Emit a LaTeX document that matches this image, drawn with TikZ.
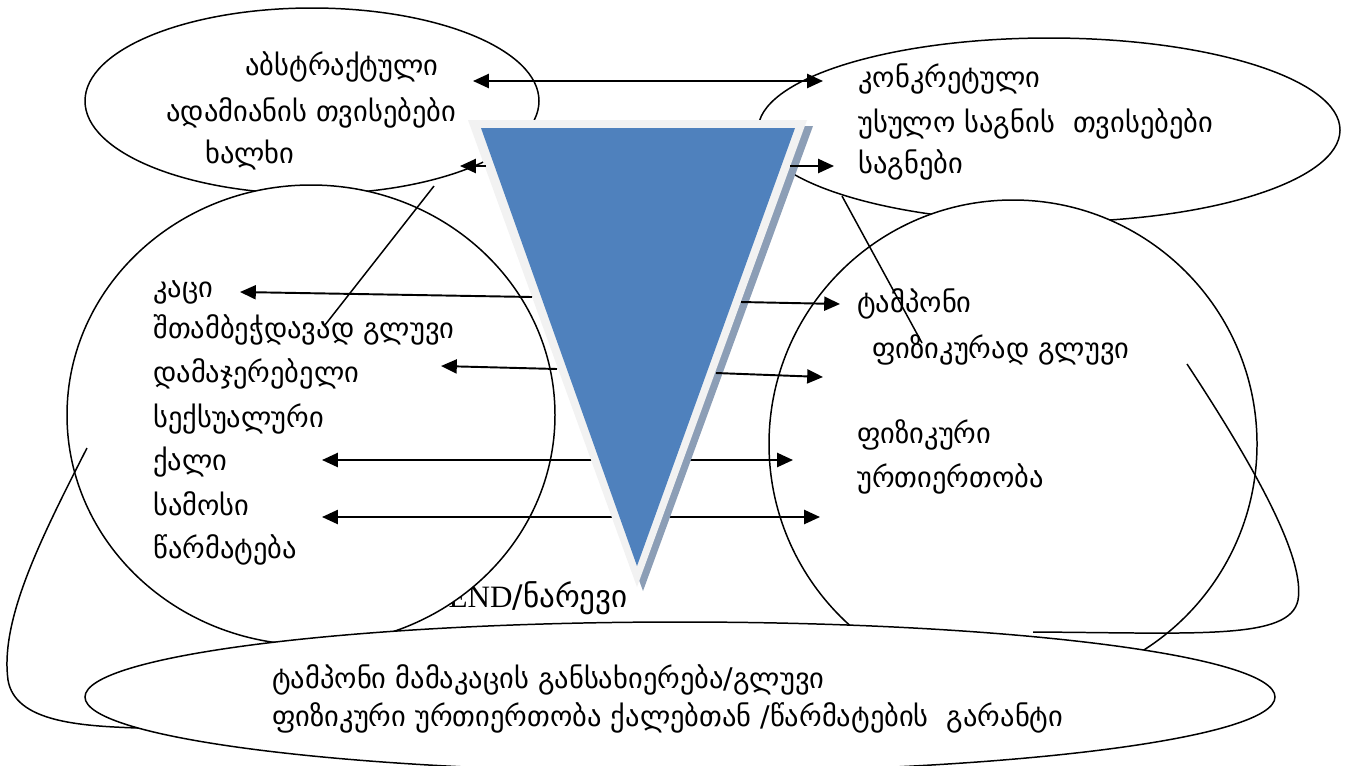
\documentclass[tikz,border=0pt]{standalone}
\usepackage{fontspec}
\setmainfont{DejaVu Sans}
\newfontfamily\endfont{Liberation Serif}
\usetikzlibrary{arrows.meta}
\definecolor{triblue}{HTML}{4F81BD}
\definecolor{triedge}{HTML}{F2F2F2}
\definecolor{trishade}{HTML}{8C9EB6}

\begin{document}
\begin{tikzpicture}[x=0.02cm,y=-0.02cm,
  lbl/.style={anchor=base west, inner sep=0pt, font=\fontsize{16.2}{18}\selectfont},
  link/.style={line width=1.1pt, -{Triangle[length=9pt,width=8pt]}},
  twoway/.style={line width=1.1pt, {Triangle[length=9pt,width=8pt]}-{Triangle[length=9pt,width=8pt]}},
  loop/.style={line width=0.85pt}]
\useasboundingbox (0,0) rectangle (1348,765);

% label half hidden behind the left circle
\node[lbl, anchor=base east, font=\fontsize{17.7}{19}\selectfont] (mix) at (628,607) {{\endfont END}/ნარევი};

% ellipses and circles
\draw[loop, fill=white] (312,101) ellipse [x radius=227, y radius=93];
\draw[loop, fill=white] (1049,130) ellipse [x radius=291, y radius=92];
\draw[loop, fill=white] (311,415) ellipse [x radius=244, y radius=230];
\draw[loop, fill=white] (1013,444) circle [radius=244];
\draw[loop, fill=white] (680,697) ellipse [x radius=595, y radius=75];

% texts
\node[lbl] (abs) at (245,75) {აბსტრაქტული};
\node[lbl] (human) at (166,121) {ადამიანის თვისებები};
\node[lbl] (people) at (205,163) {ხალხი};

\node[lbl] (conc) at (858,87) {კონკრეტული};
\node[lbl] (thing) at (858,132) {უსულო საგნის\ \ თვისებები};
\node[lbl] (things) at (858,173) {საგნები};

\node[lbl] (man) at (153,297) {კაცი};
\node[lbl] (smooth) at (153,338) {შთამბეჭდავად გლუვი};
\node[lbl] (sure) at (153,382) {დამაჯერებელი};
\node[lbl] (sexy) at (153,427) {სექსუალური};
\node[lbl] (woman) at (153,470) {ქალი};
\node[lbl] (clothes) at (153,515) {სამოსი};
\node[lbl] (success) at (153,558) {წარმატება};

\node[lbl] (tampon) at (857,312) {ტამპონი};
\node[lbl] (physsmooth) at (872,358) {ფიზიკურად გლუვი};
\node[lbl] (phys) at (857,443) {ფიზიკური};
\node[lbl] (relation) at (857,487) {ურთიერთობა};

\node[lbl] (embody) at (272,688) {ტამპონი მამაკაცის განსახიერება/გლუვი};
\node[lbl] (guarantee) at (272,726) {ფიზიკური ურთიერთობა ქალებთან /წარმატების\ \ გარანტი};

% arrows passing behind the triangle
\coordinate (w1) at (322,460);
\coordinate (e1) at (793,460);
\coordinate (w2) at (322,517);
\coordinate (e2) at (820,517);
\draw[twoway] (w1) -- (e1);
\draw[twoway] (w2) -- (e2);

% triangle
\fill[trishade] (474,126) -- (813,126) -- (643,591) -- cycle;
\fill[triedge] (468,120) -- (807,120) -- (637,587) -- cycle;
\fill[triblue] (481,128) -- (795,128) -- (637,566) -- cycle;

% arrows
\coordinate (ta) at (473,81);
\coordinate (tb) at (823,81);
\coordinate (l0) at (486,166);
\coordinate (l0e) at (460,166);
\coordinate (r0) at (790,166);
\coordinate (r0e) at (834,166);
\coordinate (l1) at (532,297);
\coordinate (l1e) at (240,292);
\coordinate (l2) at (557,369);
\coordinate (l2e) at (441,366);
\coordinate (r1) at (741,302);
\coordinate (r1e) at (840,304);
\coordinate (r2) at (716,373);
\coordinate (r2e) at (823,377);
\draw[twoway] (ta) -- (tb);
\path[link] (l0) edge (l0e);
\path[link] (r0) edge (r0e);
\path[link] (l1) edge (l1e);
\path[link] (l2) edge (l2e);
\path[link] (r1) edge (r1e);
\path[link] (r2) edge (r2e);

% loose strokes
\coordinate (s1) at (434,186);
\coordinate (s1e) at (325,325);
\coordinate (s2) at (842,196);
\coordinate (s2e) at (922,343);
\draw[loop] (s1) -- (s1e);
\draw[loop] (s2) -- (s2e);
\draw[loop] (87,448) .. controls (40,540) and (0,620) .. (8,680) .. controls (15,722) and (80,726) .. (138,728);
\draw[loop] (1187,364) .. controls (1260,475) and (1305,560) .. (1298,600) .. controls (1290,640) and (1200,633) .. (1033,632);
\end{tikzpicture}
\end{document}
